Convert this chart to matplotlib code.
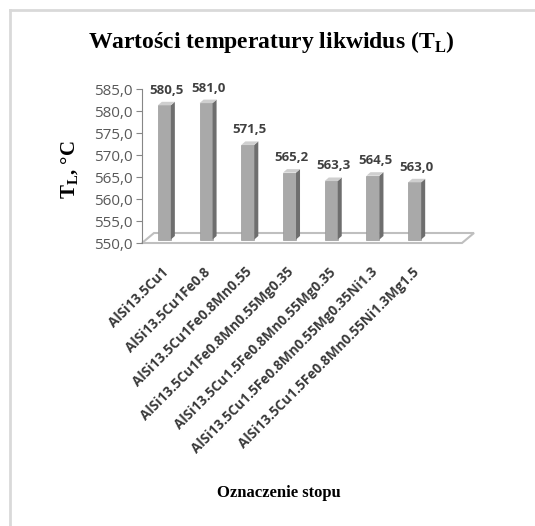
import matplotlib.pyplot as plt
from matplotlib.patches import Polygon
from matplotlib.lines import Line2D

plt.rcParams['mathtext.fontset'] = 'custom'
plt.rcParams['mathtext.rm'] = 'Liberation Serif:bold'

alloys = ['AlSi13.5Cu1', 'AlSi13.5Cu1Fe0.8', 'AlSi13.5Cu1Fe0.8Mn0.55',
          'AlSi13.5Cu1Fe0.8Mn0.55Mg0.35', 'AlSi13.5Cu1.5Fe0.8Mn0.55Mg0.35',
          'AlSi13.5Cu1.5Fe0.8Mn0.55Mg0.35Ni1.3',
          'AlSi13.5Cu1.5Fe0.8Mn0.55Ni1.3Mg1.5']
tl = [580.5, 581.0, 571.5, 565.2, 563.3, 564.5, 563.0]
yticks = [550, 555, 560, 565, 570, 575, 580, 585]

W, H = 535, 526
fig = plt.figure(figsize=(W / 100, H / 100), dpi=100)
ax = fig.add_axes([142 / W, 283 / H, 320 / W, 154 / H])
x0, x1 = -0.44, 7.23
ax.set_xlim(x0, x1)
ax.set_ylim(550, 585)
for s in ax.spines.values():
    s.set_visible(False)
ax.spines['left'].set_visible(True)
ax.spines['left'].set_color('#868686')
ax.set_xticks([])
ax.set_yticks(yticks)
ax.set_yticklabels([f'{v:.1f}'.replace('.', ',') for v in yticks],
                   fontfamily='Open Sans')
ax.tick_params(axis='y', length=4, color='#868686', labelcolor='#595959',
               labelsize=11, pad=3)

# pixel -> data conversion
ux = (x1 - x0) / 320.0
uy = 35.0 / 154.0
fdx, fdy = 12 * ux, 10 * uy      # floor depth
sdx, sdy = 4 * ux, 3.5 * uy      # bar front face offset into depth
bdx, bdy = 4 * ux, 3.5 * uy      # bar depth
w = 13 * ux

floor = Polygon([(x0, 550), (x1, 550), (x1 + fdx, 550 + fdy), (x0 + fdx, 550 + fdy)],
                closed=True, fc='white', ec='#bfbfbf', lw=1.5, clip_on=False, zorder=1)
ax.add_patch(floor)

xs = list(range(len(tl)))
ax.bar([x + sdx for x in xs], [v - 550 for v in tl], bottom=550 + sdy, width=w,
       color='#a9a9a9', edgecolor='#9a9a9a', lw=0.5, zorder=3)
for x, v in zip(xs, tl):
    xl, xr = x + sdx - w / 2, x + sdx + w / 2
    yb, yt = 550 + sdy, v + sdy
    ax.add_patch(Polygon([(xr, yb), (xr + bdx, yb + bdy), (xr + bdx, yt + bdy), (xr, yt)],
                         closed=True, fc='#6e6e6e', ec='none', zorder=3, clip_on=False))
    ax.add_patch(Polygon([(xl, yt), (xr, yt), (xr + bdx, yt + bdy), (xl + bdx, yt + bdy)],
                         closed=True, fc='#cfcfcf', ec='none', zorder=3, clip_on=False))
    ax.annotate(f'{v:.1f}'.replace('.', ','), (x + sdx + bdx / 2, yt + bdy),
                xytext=(0, 5), textcoords='offset pixels', ha='center', va='bottom',
                fontsize=9.5, fontweight='bold', color='#404040',
                fontfamily='Open Sans', annotation_clip=False)

for x, lab in zip(xs, alloys):
    ax.annotate(lab, (x + sdx, 550), xytext=(-3, -22), textcoords='offset pixels',
                rotation=45, rotation_mode='anchor', ha='right', va='top',
                fontsize=9.8, fontweight='bold', color='#3a3a3a',
                fontfamily='Open Sans', annotation_clip=False)

fig.text(271 / W, 1 - 42 / H, r'Wartości temperatury likwidus (T$_\mathrm{L}$)',
         ha='center', va='center', fontsize=17, fontweight='bold',
         fontfamily='Liberation Serif')
fig.text(70 / W, 1 - 170 / H, r'T$_\mathrm{L}$, °C', rotation=90,
         ha='center', va='center', fontsize=15, fontweight='bold',
         fontfamily='Liberation Serif')
fig.text(279 / W, 1 - 493 / H, 'Oznaczenie stopu', ha='center', va='center',
         fontsize=12, fontweight='bold', fontfamily='Liberation Serif')

fig.add_artist(Line2D([10 / W, 10 / W], [0, 1 - 10 / H], transform=fig.transFigure,
                      color='#d9d9d9', lw=2))
fig.add_artist(Line2D([10 / W, 1], [1 - 10 / H, 1 - 10 / H], transform=fig.transFigure,
                      color='#d9d9d9', lw=2))

fig.savefig('out.png', dpi=100)
